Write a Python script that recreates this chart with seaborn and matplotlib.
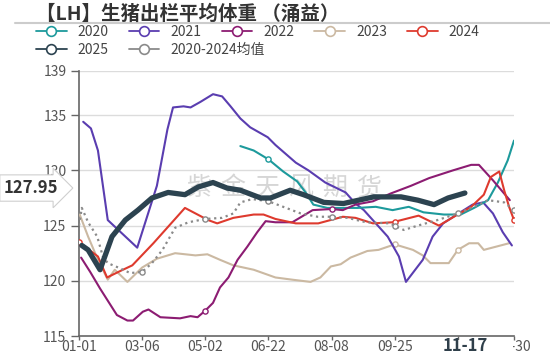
import numpy as np
import pandas as pd
import matplotlib
matplotlib.use("Agg")
import matplotlib.pyplot as plt
import seaborn as sns
from matplotlib.lines import Line2D
from matplotlib.patches import Rectangle

# ---------------- data (x = week index on category axis) ----------------
tick_pos = [0, 9, 18, 27, 36, 45, 54, 62]
tick_labels = ['01-01', '03-06', '05-02', '06-22', '08-08', '09-25', '', '12-30']

w2020 = [23, 24.9, 27, 29.1, 31.1, 32.3, 33.4, 35.4, 39.7, 42.3, 44.7, 47, 49.1, 52, 54.4, 56.3, 58.3, 59.7, 61.1, 62]
v2020 = [132.2, 131.8, 131.0, 129.9, 129.0, 128.0, 126.9, 126.6, 126.6, 126.7, 126.4, 126.7, 126.2, 126.0, 126.0, 126.6, 127.3, 128.9, 130.9, 132.7]

w2021 = [0.6, 1.7, 2.7, 4.1, 8.3, 9.4, 11.1, 12.6, 13.4, 14.9, 15.9, 17.3, 19.1, 20.4, 21.6, 23, 24.4, 26.9, 28,
         30.9, 32.7, 35.1, 38, 39.4, 40.6, 44, 45.6, 46.6, 49, 50.4, 51.9, 54.1, 56.1, 57.6, 59, 60.4, 61.7]
v2021 = [134.4, 133.8, 131.8, 125.5, 123.0, 125.2, 128.6, 133.7, 135.7, 135.8, 135.7, 136.2, 136.9, 136.7, 135.8, 134.7, 133.9, 133.0, 132.3,
         130.7, 130.0, 128.9, 128.0, 127.0, 126.4, 124.0, 122.2, 119.9, 121.9, 124.0, 125.2, 126.1, 126.9, 127.1, 126.1, 124.4, 123.2]

w2022 = [0.3, 1.6, 3, 4, 5.4, 6.9, 7.7, 9.1, 9.9, 11.6, 14.4, 15.9, 16.9, 18, 19.1, 20.1, 21.3, 22.6, 24, 25.4, 26.6,
         28, 30.4, 33.3, 36, 37.6, 39.4, 41.9, 44.4, 47.3, 49.9, 53.3, 55.9, 57, 59, 61.4]
v2022 = [122.1, 120.8, 119.3, 118.3, 116.9, 116.4, 116.4, 117.2, 117.4, 116.7, 116.6, 116.8, 116.7, 117.3, 118.0, 119.4, 120.3, 121.9, 123.1, 124.4, 125.4,
         125.3, 125.3, 126.4, 126.5, 126.4, 126.9, 127.2, 127.9, 128.6, 129.3, 130.0, 130.5, 130.5, 129.1, 127.3]

w2023 = [0.1, 1.3, 2.7, 4.1, 5.1, 6.9, 9, 11.1, 13.7, 16.6, 18.3, 20.1, 22, 24.9, 28, 30.4, 33, 34.4, 35.9, 37.3, 38.7,
         41.1, 42.7, 45, 47.6, 49, 50.1, 52.7, 54, 55.6, 56.9, 57.7, 61.3]
v2023 = [126.0, 124.0, 121.9, 120.1, 121.0, 119.9, 121.2, 122.0, 122.5, 122.3, 122.4, 121.9, 121.4, 121.0, 120.3, 120.1, 119.9, 120.3, 121.3, 121.5, 122.1,
         122.7, 122.8, 123.3, 122.8, 122.3, 121.6, 121.6, 122.8, 123.4, 123.4, 122.8, 123.4]

w2024 = [0, 2.7, 4, 5.6, 7.6, 10.6, 15.1, 18.4, 19.7, 22, 24.9, 26.3, 28, 30.9, 34.1, 37.6, 39.4, 41.9, 44.7, 48.4,
         51.3, 53.7, 55.9, 57.7, 58.7, 59.9, 60.6, 61.3, 62]
v2024 = [123.5, 122.2, 120.3, 120.8, 121.4, 123.4, 126.6, 125.5, 125.2, 125.7, 126.0, 126.0, 125.6, 125.2, 125.2, 125.8, 125.7, 125.2, 125.3, 125.9,
         125.0, 125.9, 126.7, 127.8, 129.4, 129.9, 128.2, 126.7, 125.5]

w2025 = [0.4, 1.3, 3, 4.7, 6.6, 8.4, 10.4, 12.7, 15.1, 17, 19.1, 21.1, 23, 25.9, 27.3, 30.1, 32, 34.9, 37.7, 42, 45.9, 48.3, 50.6, 52.6, 55]
v2025 = [123.2, 122.8, 121.0, 124.0, 125.5, 126.4, 127.5, 128.0, 127.8, 128.5, 128.9, 128.4, 128.2, 127.5, 127.5, 128.2, 127.8, 127.1, 127.0, 127.6, 127.6, 127.3, 126.9, 127.5, 127.95]

wavg = [0, 0.4, 1.3, 2.6, 3.4, 4.1, 5.6, 7.3, 9, 10.4, 11.9, 13.7, 15.6, 18, 20.4, 22, 23, 24.7, 27, 29.1, 31.6, 34, 36,
        38.3, 40.9, 44.3, 46.3, 48.3, 51.1, 54, 56.3, 58.3, 60.6, 62]
vavg = [125.0, 126.6, 125.3, 124.0, 122.2, 121.6, 121.2, 120.7, 120.8, 121.6, 122.8, 124.8, 125.3, 125.6, 125.7, 126.1, 127.1, 127.4, 127.2, 126.7, 126.1, 125.8, 125.8,
        125.7, 125.3, 125.2, 124.6, 125.0, 125.5, 126.1, 126.7, 127.3, 127.1, 126.4]

pointer_x_label = '11-17'
pointer_y_label = '127.95'

# ---------------- style ----------------
sns.set_theme(style="white")
plt.rcParams['font.family'] = ['Noto Sans CJK SC', 'DejaVu Sans']
plt.rcParams['axes.unicode_minus'] = False

series = [
    ('2020', w2020, v2020, '#1d9a9c', 1.5, '-', [27]),
    ('2021', w2021, v2021, '#5a3db0', 1.5, '-', []),
    ('2022', w2022, v2022, '#8c1c72', 1.5, '-', [18, 36]),
    ('2023', w2023, v2023, '#cbb9a2', 1.5, '-', [45, 54]),
    ('2024', w2024, v2024, '#de3a2e', 1.5, '-', [0, 45, 62]),
    ('2025', w2025, v2025, '#2c4350', 3.8, '-', []),
    ('2020-2024均值', wavg, vavg, '#8a8a8a', 1.6, ':', [9, 18, 27, 36, 45, 54, 62]),
]

fig = plt.figure(figsize=(5.5, 3.55), dpi=100)
ax = fig.add_axes([79 / 550, 1 - 336 / 355, (514 - 79) / 550, (336 - 71) / 355])

draw_order = ['2023', '2021', '2020', '2022', '2024', '2020-2024均值', '2025']
lookup = {s[0]: s for s in series}
for z, name in enumerate(draw_order):
    n, w, v, c, lw, ls, mk = lookup[name]
    df = pd.DataFrame({'w': w, 'v': v})
    sns.lineplot(data=df, x='w', y='v', ax=ax, color=c, linewidth=lw, linestyle=ls,
                 zorder=3 + z, legend=False, estimator=None)
    if mk:
        ax.scatter(mk, np.interp(mk, w, v), s=14, facecolor='white', edgecolor=c,
                   linewidth=1.0, zorder=3 + z + 0.5)

ax.set_xlim(0, 62)
ax.set_ylim(115, 139)
ax.set_xticks(tick_pos)
ax.set_xticklabels(tick_labels)
ax.set_yticks([115, 120, 125, 130, 135, 139])
ax.set_xlabel('')
ax.set_ylabel('')
for yv in [120, 125, 130, 135, 139]:
    ax.axhline(yv, color='#dcdcdc', lw=1.0, zorder=1)
for s in ['top', 'right']:
    ax.spines[s].set_visible(False)
for s in ['left', 'bottom']:
    ax.spines[s].set_color('#666666')
    ax.spines[s].set_linewidth(1.2)
ax.tick_params(axis='y', left=True, length=6, width=1.0, color='#666666', pad=3,
               labelsize=10, labelcolor='#555555')
ax.tick_params(axis='x', bottom=True, length=3, width=1.0, color='#666666', pad=0,
               labelsize=10, labelcolor='#555555')
ax.set_facecolor('none')

# watermark
wm = '紫金天风期货'
for i, ch in enumerate(wm):
    ax.text((199 + 34 * i) / 550, 1 - 188 / 355, ch, transform=fig.transFigure,
            fontsize=18, color='#d6d6d6', ha='center', va='center', zorder=2)

# title and separator
fig.text(36 / 550, 1 - 14 / 355, '【LH】生猪出栏平均体重 （涌益）', fontsize=14,
         fontweight='bold', color='#333333', ha='left', va='center')
fig.add_artist(Line2D([15 / 550, 1], [1 - 23 / 355, 1 - 23 / 355], color='#cccccc', lw=1.5))

# legends
def handle(name):
    c = lookup[name][3]
    return Line2D([0], [0], color=c, lw=1.3, marker='o', markersize=7,
                  markerfacecolor='white', markeredgecolor=c, markeredgewidth=1.2)

row1 = ['2020', '2021', '2022', '2023', '2024']
row2 = ['2025', '2020-2024均值']
leg_kw = dict(frameon=False, fontsize=10, handlelength=2.2, handletextpad=0.8,
              columnspacing=1.45, borderpad=0, borderaxespad=0, loc='center left',
              labelcolor='#444444')
l1 = fig.legend([handle(n) for n in row1], row1, ncol=5,
                bbox_to_anchor=(36 / 550, 1 - 32 / 355), **leg_kw)
l2 = fig.legend([handle(n) for n in row2], row2, ncol=2,
                bbox_to_anchor=(36 / 550, 1 - 50 / 355), **leg_kw)

# axis pointer labels
px_last = w2025[-1]
fig.patches.append(Rectangle((413 / 550, 0), 100 / 550, 1 - 340 / 355,
                             transform=fig.transFigure, facecolor='white',
                             edgecolor='none', zorder=1))
xfig = fig.transFigure.inverted().transform(ax.transData.transform((px_last, 115)))[0]
fig.text(xfig, 1 - 346 / 355, pointer_x_label, fontsize=12, fontweight='bold',
         color='#2f3f4a', ha='center', va='center', zorder=2)
yfig = fig.transFigure.inverted().transform(ax.transData.transform((0, v2025[-1] + 0.45)))[1]
fig.text(4 / 550, yfig, pointer_y_label, fontsize=12, fontweight='bold', color='#333333',
         ha='left', va='center', zorder=2,
         bbox=dict(boxstyle='rarrow,pad=0.25', facecolor='white', edgecolor='#cfcfcf', lw=0.8))

fig.savefig('out.png', dpi=100)
